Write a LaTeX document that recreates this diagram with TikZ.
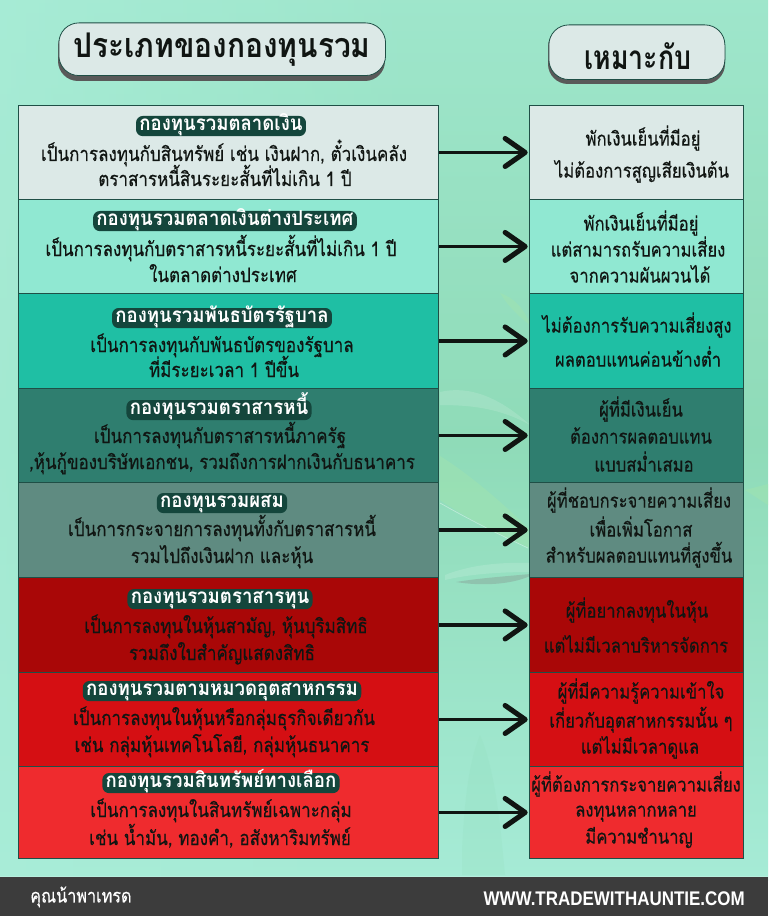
\documentclass[tikz,border=0pt]{standalone}
\usepackage{fontspec}
\newfontfamily\thaifont[Script=Thai,FakeStretch=0.85,FakeBold=0.4]{Loma}
\newfontfamily\thaihead[Script=Thai,FakeStretch=0.9]{Loma}
\newfontfamily\thaititle[Script=Thai,FakeStretch=0.8]{Loma}
\newfontfamily\thaititlewide[Script=Thai,FakeStretch=0.88]{Loma}
\newfontfamily\latinfont[FakeStretch=0.86]{Liberation Sans}
\usetikzlibrary{arrows.meta,fadings}
\definecolor{bgA}{HTML}{A9EDD8}
\definecolor{bgB}{HTML}{8FDBB8}
\definecolor{bgC}{HTML}{A6EBD6}
\definecolor{rowA}{HTML}{DCE9E7}
\definecolor{rowB}{HTML}{90E8D2}
\definecolor{rowC}{HTML}{1FBFA4}
\definecolor{rowD}{HTML}{2F7E6F}
\definecolor{rowE}{HTML}{5F8B81}
\definecolor{rowF}{HTML}{A90707}
\definecolor{rowG}{HTML}{D50F13}
\definecolor{rowH}{HTML}{EF2B2E}
\definecolor{edge}{HTML}{1F4F46}
\definecolor{halo}{HTML}{14463C}
\definecolor{ink}{HTML}{101512}
\definecolor{foot}{HTML}{3C3C3C}
\definecolor{leaf}{HTML}{9FE3B0}
\tikzset{
  x=0.75pt,y=-0.75pt,
  rowbox/.style={draw=edge,line width=0.7pt,anchor=north west,inner sep=0pt,minimum height=#1*0.75pt},
  leftbox/.style={rowbox=94,minimum width=315pt},
  rightbox/.style={rowbox=94,minimum width=160.5pt},
  body/.style={font=\thaifont\fontsize{15}{16}\selectfont,text=ink,inner sep=0pt,text height=8pt,text depth=2pt,yshift=-1.5pt},
  rbody/.style={font=\thaifont\fontsize{14.7}{16}\selectfont,text=ink,inner sep=0pt,text height=8pt,text depth=2pt,yshift=-1.2pt},
  headline/.style={font=\thaihead\bfseries\fontsize{15.5}{16}\selectfont,text=white,fill=halo,rounded corners=5pt,inner xsep=2.5pt,inner ysep=1.8pt,text height=9pt,text depth=2.5pt,yshift=-0.8pt},
  link/.style={line width=2.7pt,ink,-{Straight Barb[length=15pt,width=21pt,line width=3.8pt,round]},shorten >=1pt},
  pill/.style={draw=edge,line width=0.6pt,fill=rowA,rounded corners=15pt,inner sep=0pt},
  pilltext/.style={font=\thaititle\bfseries\fontsize{25}{27}\selectfont,text=ink,inner sep=0pt},
  pillshade/.style={fill=#1,rounded corners=15pt},
  softleaf/.style={fill=leaf,opacity=0.55},
  paleleaf/.style={fill=white,opacity=0.14},
}
\begin{document}
\begin{tikzpicture}
\useasboundingbox (0,0) rectangle (768,916);
% background
\shade[top color=bgA!60!bgB,bottom color=bgC,middle color=bgB] (0,0) rectangle (768,880);
\fill[bgA,path fading=east,opacity=0.8] (0,0) rectangle (430,880);
% leaves behind the columns
\fill[softleaf] (500,293) .. controls (515,298) and (525,310) .. (530,325) .. controls (518,316) and (508,306) .. (500,293) -- cycle;
\fill[paleleaf] (440,392) .. controls (470,385) and (500,398) .. (530,425) .. controls (500,408) and (470,405) .. (440,405) -- cycle;
\fill[softleaf] (440,456) .. controls (475,478) and (510,510) .. (530,530) -- (530,548) .. controls (500,535) and (470,520) .. (440,500) -- cycle;
\draw[white,opacity=0.4,line width=0.5pt] (440,503) .. controls (470,520) and (500,535) .. (528,548);
\fill[gray,opacity=0.3] (456,582) .. controls (480,578) and (510,576) .. (530,574) -- (530,576) .. controls (510,585) and (480,586) .. (456,582) -- cycle;
\fill[paleleaf] (445,575) .. controls (470,565) and (500,562) .. (530,563) -- (530,572) .. controls (500,572) and (470,574) .. (445,580) -- cycle;
\fill[softleaf] (745,490) -- (768,484) -- (768,505) -- cycle;
\fill[bgB,opacity=0.18] (462,850) .. controls (465,790) and (470,760) .. (480,735) .. controls (495,770) and (500,820) .. (505,875) -- (462,875) -- cycle;
% footer
\fill[foot] (0,877) rectangle (768,916);
\fill[white,opacity=0.18] (0,875.5) rectangle (768,877);
% header pills
\fill[pillshade=black!65] (58,26) rectangle (385,81);
\node[pill,anchor=north west,minimum width=245pt,minimum height=39.5pt] (headL) at (58.5,22.5) {};
\node[pilltext,font=\thaititlewide\bfseries\fontsize{25.5}{27}\selectfont] (headLt) at (222,50) {ประเภทของกองทุนรวม};
\fill[pillshade=black!65] (548,27) rectangle (725,84);
\node[pill,anchor=north west,minimum width=132pt,minimum height=41pt] (headR) at (548.5,24.5) {};
\node[pilltext] (headRt) at (638,56) {เหมาะกับ};
% left column
\node[leftbox,fill=rowA] (l1) at (18,105) {};
\node[leftbox,fill=rowB] (l2) at (18,199) {};
\node[leftbox,fill=rowC,minimum height=71.25pt] (l3) at (18,293) {};
\node[leftbox,fill=rowD] (l4) at (18,388) {};
\node[leftbox,fill=rowE,minimum height=71.25pt] (l5) at (18,482) {};
\node[leftbox,fill=rowF,minimum height=71.25pt] (l6) at (18,577) {};
\node[leftbox,fill=rowG] (l7) at (18,672) {};
\node[leftbox,fill=rowH,minimum height=69pt] (l8) at (18,766) {};
% right column
\node[rightbox,fill=rowA] (r1) at (529,105) {};
\node[rightbox,fill=rowB] (r2) at (529,199) {};
\node[rightbox,fill=rowC,minimum height=71.25pt] (r3) at (529,293) {};
\node[rightbox,fill=rowD] (r4) at (529,388) {};
\node[rightbox,fill=rowE,minimum height=71.25pt] (r5) at (529,482) {};
\node[rightbox,fill=rowF,minimum height=71.25pt] (r6) at (529,577) {};
\node[rightbox,fill=rowG] (r7) at (529,672) {};
\node[rightbox,fill=rowH,minimum height=69pt] (r8) at (529,766) {};
% connectors
\foreach \i in {1,...,8} \draw[link] (l\i.east) -- (r\i.west);
% left text
\node[headline] (t1) at (221,125) {กองทุนรวมตลาดเงิน};
\node[body] (a1) at (224,155) {เป็นการลงทุนกับสินทรัพย์ เช่น เงินฝาก, ตั๋วเงินคลัง};
\node[body] (b1) at (225,180) {ตราสารหนี้สินระยะสั้นที่ไม่เกิน 1 ปี};
\node[headline] (t2) at (225,220) {กองทุนรวมตลาดเงินต่างประเทศ};
\node[body] (a2) at (221,250) {เป็นการลงทุนกับตราสารหนี้ระยะสั้นที่ไม่เกิน 1 ปี};
\node[body] (b2) at (223,276) {ในตลาดต่างประเทศ};
\node[headline] (t3) at (222,317) {กองทุนรวมพันธบัตรรัฐบาล};
\node[body] (a3) at (222,346) {เป็นการลงทุนกับพันธบัตรของรัฐบาล};
\node[body] (b3) at (224,371) {ที่มีระยะเวลา 1 ปีขึ้น};
\node[headline] (t4) at (219,409) {กองทุนรวมตราสารหนี้};
\node[body] (a4) at (220,437) {เป็นการลงทุนกับตราสารหนี้ภาครัฐ};
\node[body] (b4) at (222,463) {,หุ้นกู้ของบริษัทเอกชน, รวมถึงการฝากเงินกับธนาคาร};
\node[headline] (t5) at (222,502) {กองทุนรวมผสม};
\node[body] (a5) at (222,530) {เป็นการกระจายการลงทุนทั้งกับตราสารหนี้};
\node[body] (b5) at (222,557) {รวมไปถึงเงินฝาก และหุ้น};
\node[headline] (t6) at (220,598) {กองทุนรวมตราสารทุน};
\node[body] (a6) at (226,627) {เป็นการลงทุนในหุ้นสามัญ, หุ้นบุริมสิทธิ};
\node[body] (b6) at (222,654) {รวมถึงใบสำคัญแสดงสิทธิ};
\node[headline] (t7) at (222,690) {กองทุนรวมตามหมวดอุตสาหกรรม};
\node[body] (a7) at (224,719) {เป็นการลงทุนในหุ้นหรือกลุ่มธุรกิจเดียวกัน};
\node[body] (b7) at (222,746) {เช่น กลุ่มหุ้นเทคโนโลยี, กลุ่มหุ้นธนาคาร};
\node[headline] (t8) at (221,782) {กองทุนรวมสินทรัพย์ทางเลือก};
\node[body] (a8) at (221,811) {เป็นการลงทุนในสินทรัพย์เฉพาะกลุ่ม};
\node[body] (b8) at (220,839) {เช่น น้ำมัน, ทองคำ, อสังหาริมทรัพย์};
% right text
\node[rbody] (p1) at (643,140) {พักเงินเย็นที่มีอยู่};
\node[rbody] (q1) at (642,172) {ไม่ต้องการสูญเสียเงินต้น};
\node[rbody] (p2) at (641,225) {พักเงินเย็นที่มีอยู่};
\node[rbody] (q2) at (638,251) {แต่สามารถรับความเสี่ยง};
\node[rbody] (s2) at (640,277) {จากความผันผวนได้};
\node[rbody] (p3) at (637,327) {ไม่ต้องการรับความเสี่ยงสูง};
\node[rbody] (q3) at (638,361) {ผลตอบแทนค่อนข้างต่ำ};
\node[rbody] (p4) at (641,411) {ผู้ที่มีเงินเย็น};
\node[rbody] (q4) at (641,438) {ต้องการผลตอบแทน};
\node[rbody] (s4) at (644,466) {แบบสม่ำเสมอ};
\node[rbody] (p5) at (639,502) {ผู้ที่ชอบกระจายความเสี่ยง};
\node[rbody] (q5) at (641,531) {เพื่อเพิ่มโอกาส};
\node[rbody] (s5) at (639,557) {สำหรับผลตอบแทนที่สูงขึ้น};
\node[rbody] (p6) at (637,612) {ผู้ที่อยากลงทุนในหุ้น};
\node[rbody] (q6) at (636,647) {แต่ไม่มีเวลาบริหารจัดการ};
\node[rbody] (p7) at (641,693) {ผู้ที่มีความรู้ความเข้าใจ};
\node[rbody] (q7) at (641,722) {เกี่ยวกับอุตสาหกรรมนั้น ๆ};
\node[rbody] (s7) at (640,748) {แต่ไม่มีเวลาดูแล};
\node[rbody] (p8) at (636,786) {ผู้ที่ต้องการกระจายความเสี่ยง};
\node[rbody] (q8) at (636,811) {ลงทุนหลากหลาย};
\node[rbody] (s8) at (639,838) {มีความชำนาญ};
% footer text
\node[font=\thaifont\fontsize{14.3}{15}\selectfont,text=white,anchor=west,inner sep=0pt] (fl) at (30,897) {คุณน้าพาเทรด};
\node[font=\latinfont\bfseries\fontsize{14.8}{16}\selectfont,text=white,anchor=east,inner sep=0pt] (fr) at (745,899) {WWW.TRADEWITHAUNTIE.COM};
\end{tikzpicture}
\end{document}
